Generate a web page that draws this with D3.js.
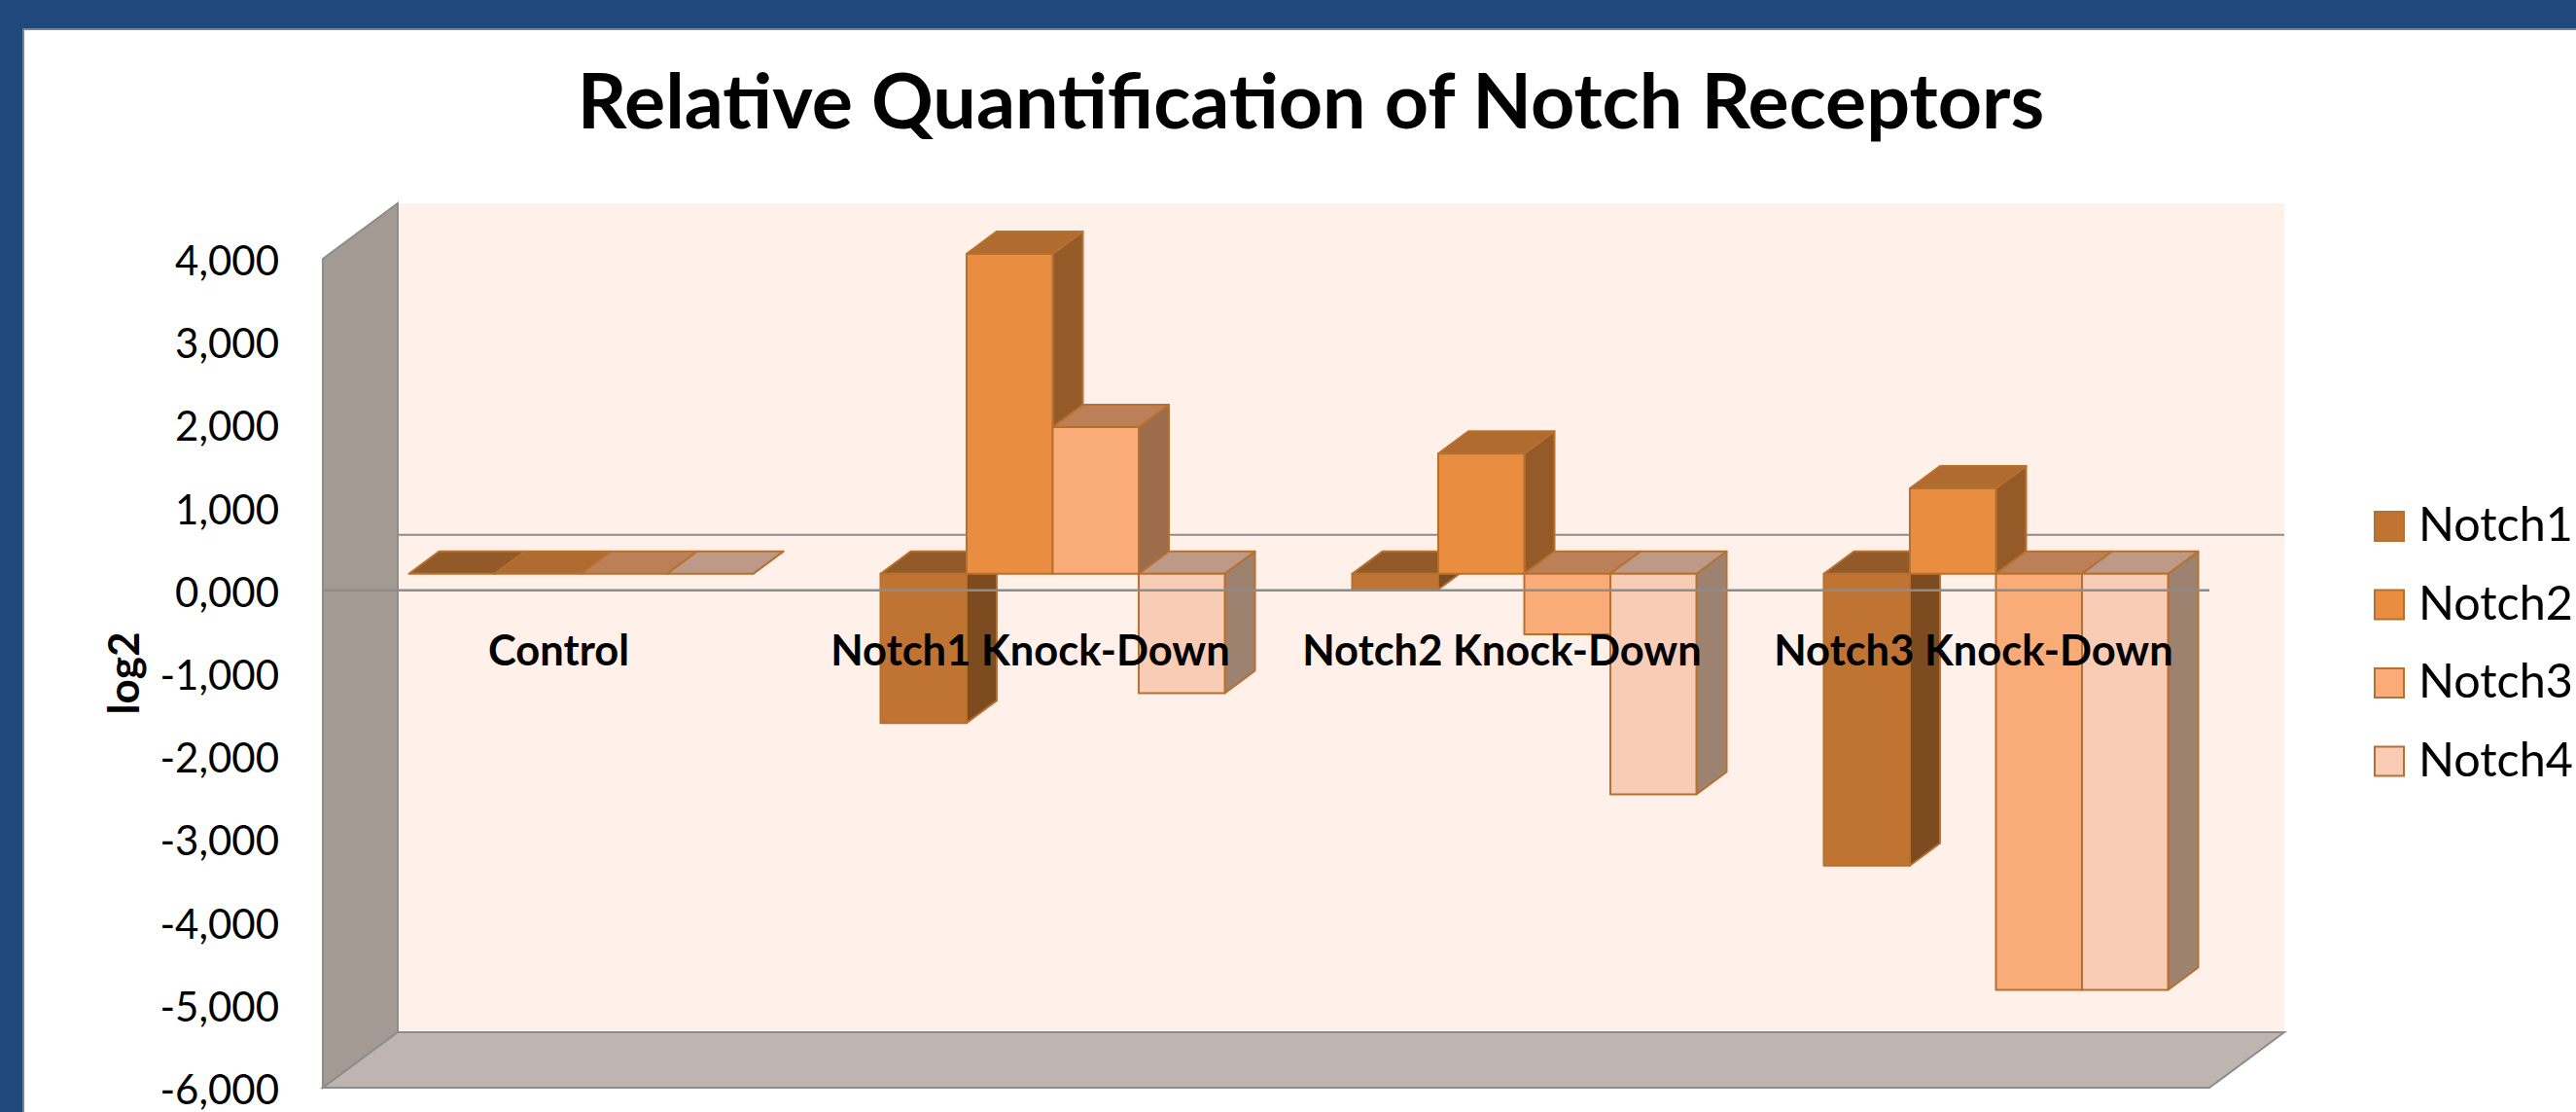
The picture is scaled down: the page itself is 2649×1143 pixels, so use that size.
<!DOCTYPE html>
<html>
<head>
<meta charset="utf-8">
<script src="https://cdn.jsdelivr.net/npm/d3@7"></script>
<style>
  html, body { margin: 0; background: #fff; }
  svg { display: block; font-family: Lato, sans-serif; }
</style>
</head>
<body>
<svg id="chart" width="2649" height="1143"></svg>
<script>
// values
const categories = ["Control", "Notch1 Knock-Down", "Notch2 Knock-Down", "Notch3 Knock-Down"];
const seriesNames = ["Notch1", "Notch2", "Notch3", "Notch4"];
const notch1 = [0, -1.8, -0.19, -3.52];
const notch2 = [0, 3.86, 1.45, 1.03];
const notch3 = [0, 1.77, -0.73, -5.02];
const notch4 = [0, -1.44, -2.66, -5.02];
const yTicks = [4, 3, 2, 1, 0, -1, -2, -3, -4, -5, -6];

const seriesValues = [notch1, notch2, notch3, notch4];
const frontColors = ["#c07433", "#e98d41", "#f9ac78", "#f9ccb6"];
const topColors = ["#925a29", "#b06b30", "#bc8059", "#bc9a87"];
const sideColors = ["#7d4b20", "#945a28", "#9d6c4b", "#9e8270"];
const edge = "#b8702f";
const wallLine = "#8c8c8c";

const dims = { left: 332, right: 2272, top: 266, bottom: 1118 };
const wall = { dx: 77, dy: -57 }; // depth of the whole 3d box
const plane = { dx: 23, dy: -17 }; // where the front of the bars sits in the box
const bar = { dx: 31, dy: -23 }; // depth of one bar

let svg = d3.select("#chart");

let yScale = d3.scaleLinear().domain([-6, 4]).range([dims.bottom, dims.top]);
let xScale = d3
  .scaleBand()
  .domain(categories)
  .range([dims.left, dims.right])
  .paddingInner(0.27)
  .paddingOuter(0.135);
let xInner = d3.scaleBand().domain(seriesNames).range([0, xScale.bandwidth()]);

const pts = (arr) => arr.map((p) => p.join(",")).join(" ");

// slide frame
svg.append("rect").attr("width", 2649).attr("height", 1143).attr("fill", "#1f497d");
svg
  .append("rect")
  .attr("x", 24)
  .attr("y", 30)
  .attr("width", 2640)
  .attr("height", 1130)
  .attr("fill", "#fff")
  .attr("stroke", "#808080")
  .attr("stroke-width", 2);

// title
svg
  .append("text")
  .text("Relative Quantification of Notch Receptors")
  .attr("x", 1348)
  .attr("y", 132)
  .attr("text-anchor", "middle")
  .attr("font-size", 79)
  .attr("font-weight", 700)
  .attr("fill", "#000");

// the box: back wall, side wall, floor
svg
  .append("rect")
  .attr("x", dims.left + wall.dx)
  .attr("y", dims.top + wall.dy)
  .attr("width", dims.right - dims.left)
  .attr("height", dims.bottom - dims.top)
  .attr("fill", "#fff0e9");

svg
  .append("polygon")
  .attr(
    "points",
    pts([
      [dims.left, dims.top],
      [dims.left + wall.dx, dims.top + wall.dy],
      [dims.left + wall.dx, dims.bottom + wall.dy],
      [dims.left, dims.bottom],
    ])
  )
  .attr("fill", "#a39a94")
  .attr("stroke", wallLine)
  .attr("stroke-width", 2);

svg
  .append("polygon")
  .attr(
    "points",
    pts([
      [dims.left, dims.bottom],
      [dims.left + wall.dx, dims.bottom + wall.dy],
      [dims.right + wall.dx, dims.bottom + wall.dy],
      [dims.right, dims.bottom],
    ])
  )
  .attr("fill", "#bfb5b0")
  .attr("stroke", wallLine)
  .attr("stroke-width", 2);

// zero line on the back wall, behind the bars
svg
  .append("line")
  .attr("x1", dims.left + wall.dx)
  .attr("x2", dims.right + wall.dx)
  .attr("y1", yScale(0) + wall.dy)
  .attr("y2", yScale(0) + wall.dy)
  .attr("stroke", wallLine)
  .attr("stroke-width", 2);

// bars, painted left to right so the later ones cover the earlier ones
let bars = svg.append("g").attr("stroke", edge).attr("stroke-width", 2).attr("stroke-linejoin", "round");

categories.forEach((cat, c) => {
  seriesNames.forEach((name, s) => {
    const v = seriesValues[s][c];
    const x0 = xScale(cat) + xInner(name) + plane.dx;
    const x1 = x0 + xInner.bandwidth();
    const y0 = yScale(0) + plane.dy;
    const yv = yScale(v) + plane.dy;
    const topY = Math.min(y0, yv);
    const botY = Math.max(y0, yv);

    bars
      .append("polygon")
      .attr(
        "points",
        pts([
          [x1, topY],
          [x1 + bar.dx, topY + bar.dy],
          [x1 + bar.dx, botY + bar.dy],
          [x1, botY],
        ])
      )
      .attr("fill", sideColors[s]);
    bars
      .append("polygon")
      .attr(
        "points",
        pts([
          [x0, topY],
          [x0 + bar.dx, topY + bar.dy],
          [x1 + bar.dx, topY + bar.dy],
          [x1, topY],
        ])
      )
      .attr("fill", topColors[s]);
    bars
      .append("rect")
      .attr("x", x0)
      .attr("y", topY)
      .attr("width", x1 - x0)
      .attr("height", botY - topY)
      .attr("fill", frontColors[s]);
  });
});

// front zero line goes over the bars
svg
  .append("line")
  .attr("x1", dims.left)
  .attr("x2", dims.right)
  .attr("y1", yScale(0))
  .attr("y2", yScale(0))
  .attr("stroke", wallLine)
  .attr("stroke-width", 2.5);

// y axis
const commaFormat = d3.formatLocale({
  decimal: ",",
  thousands: ".",
  grouping: [3],
  currency: ["", ""],
  minus: "-",
}).format(".3f");

let yAxis = d3.axisLeft().scale(yScale).tickValues(yTicks).tickSize(0).tickPadding(45).tickFormat(commaFormat);

svg
  .append("g")
  .attr("transform", "translate(" + dims.left + ", 3)")
  .call(yAxis)
  .call((g) => g.select(".domain").remove())
  .selectAll("text")
  .attr("font-family", "Lato, sans-serif")
  .attr("font-size", 42)
  .attr("fill", "#000");

svg
  .append("text")
  .text("log2")
  .attr("transform", "translate(143, 692) rotate(-90)")
  .attr("text-anchor", "middle")
  .attr("font-size", 44)
  .attr("font-weight", 700)
  .attr("fill", "#000");

// category labels sit on the front of the box, over the bars
svg
  .selectAll(".cat")
  .data(categories)
  .enter()
  .append("text")
  .attr("class", "cat")
  .text((d) => d)
  .attr("x", (d) => xScale(d) + xScale.bandwidth() / 2)
  .attr("y", 684)
  .attr("text-anchor", "middle")
  .attr("font-size", 43.5)
  .attr("font-weight", 700)
  .attr("fill", "#000");

// legend
let legend = svg
  .selectAll(".legend")
  .data(seriesNames)
  .enter()
  .append("g")
  .attr("class", "legend")
  .attr("transform", (d, i) => "translate(2442, " + (526 + i * 80.5) + ")");

legend
  .append("rect")
  .attr("width", 30)
  .attr("height", 30)
  .attr("fill", (d, i) => frontColors[i])
  .attr("stroke", edge)
  .attr("stroke-width", 2);

legend
  .append("text")
  .text((d) => d)
  .attr("x", 45)
  .attr("y", 30)
  .attr("font-size", 48.5)
  .attr("fill", "#000");
</script>
</body>
</html>
